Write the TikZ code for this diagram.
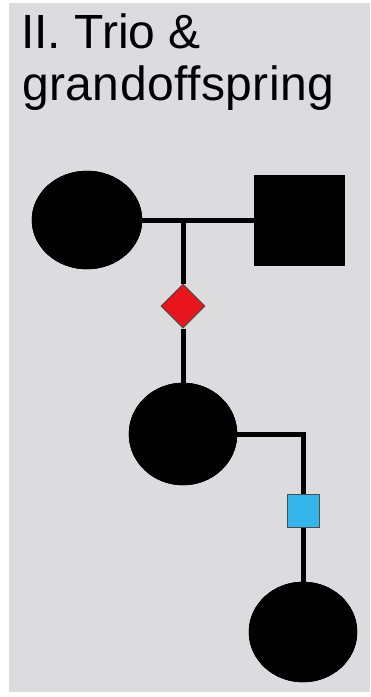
\documentclass[tikz,border=0pt]{standalone}
\usepackage{fontspec}
\setmainfont{Liberation Sans}
\usetikzlibrary{shapes.geometric}
\definecolor{panelgray}{RGB}{220,220,222}
\definecolor{dred}{RGB}{232,22,28}
\definecolor{dblue}{RGB}{52,180,232}
\tikzset{
  affected/.style={ellipse, fill=black, draw=black, inner sep=0pt},
  malebox/.style={rectangle, fill=black, draw=black, inner sep=0pt, minimum width=90pt, minimum height=90pt},
  link/.style={line width=5pt, draw=black},
  titletext/.style={anchor=base west, inner sep=0pt, font=\fontsize{48}{52}\selectfont},
}
\begin{document}
\begin{tikzpicture}[x=1pt,y=-1pt]
\useasboundingbox (0,0) rectangle (370,697);
\fill[white] (0,0) rectangle (370,697);
\fill[panelgray] (9,3) rectangle (370,692);
\node[titletext] (title1) at (21,48) {II. Trio \&};
\node[titletext] (title2) at (22,100) {\addfontfeatures{LetterSpace=1}grandoffspring};
\node[affected, minimum width=110pt, minimum height=98pt] (mother) at (87,220) {};
\node[malebox] (father) at (299,220) {};
\coordinate (mid) at (183,220);
\node[diamond, fill=dred, draw=black!70, line width=1pt, minimum width=44pt, minimum height=44pt, inner sep=0pt] (child) at (183,306) {};
\node[affected, minimum width=108pt, minimum height=102pt] (daughter) at (183,434) {};
\coordinate (turn) at (303,434);
\node[rectangle, fill=dblue, draw=black!70, line width=1pt, minimum width=32pt, minimum height=33pt, inner sep=0pt] (gchild) at (303,511) {};
\node[affected, minimum width=108pt, minimum height=100pt] (grand) at (303,632) {};
\begin{scope}[line cap=butt]
\draw[link] (mother.center) -- (father.center);
\draw[link] (mid) -- (child.north);
\draw[link] (child.south) -- (daughter.center);
\draw[link] (daughter.center) -- (turn) -- (gchild.north);
\draw[link] (gchild.south) -- (grand.center);
\end{scope}
\node[affected, minimum width=110pt, minimum height=98pt] at (mother.center) {};
\node[malebox] at (father.center) {};
\node[affected, minimum width=108pt, minimum height=102pt] at (daughter.center) {};
\node[affected, minimum width=108pt, minimum height=100pt] at (grand.center) {};
\end{tikzpicture}
\end{document}
